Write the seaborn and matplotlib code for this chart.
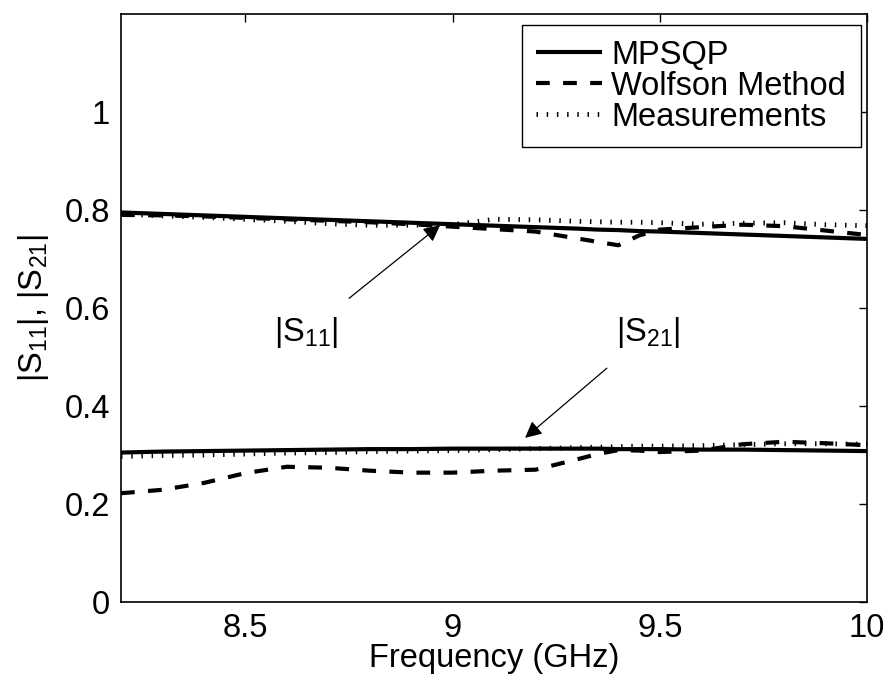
import numpy as np
import pandas as pd
import matplotlib
matplotlib.use("Agg")
import matplotlib.pyplot as plt
import seaborn as sns

freq = [8.2, 8.3, 8.4, 8.5, 8.6, 8.7, 8.8, 8.9, 9.0, 9.1, 9.2, 9.3, 9.35,
        9.4, 9.45, 9.5, 9.6, 9.7, 9.8, 9.9, 10.0]

s11_mpsqp = [0.795, 0.792, 0.789, 0.786, 0.783, 0.780, 0.777, 0.774, 0.771,
             0.768, 0.765, 0.762, 0.760, 0.759, 0.757, 0.756, 0.753, 0.750,
             0.747, 0.744, 0.741]
s11_wolfson = [0.790, 0.789, 0.787, 0.784, 0.781, 0.778, 0.775, 0.771, 0.766,
               0.761, 0.756, 0.742, 0.735, 0.728, 0.748, 0.760, 0.765, 0.770,
               0.767, 0.758, 0.749]
s11_meas = [0.792, 0.788, 0.785, 0.781, 0.777, 0.772, 0.769, 0.769, 0.770,
            0.781, 0.780, 0.777, 0.776, 0.775, 0.775, 0.774, 0.771, 0.773,
            0.774, 0.770, 0.768]

s21_mpsqp = [0.305, 0.307, 0.308, 0.309, 0.310, 0.311, 0.312, 0.312, 0.313,
             0.313, 0.313, 0.313, 0.313, 0.312, 0.312, 0.312, 0.311, 0.311,
             0.310, 0.309, 0.308]
s21_wolfson = [0.222, 0.229, 0.243, 0.263, 0.276, 0.274, 0.268, 0.264, 0.264,
               0.268, 0.270, 0.291, 0.302, 0.310, 0.309, 0.306, 0.309, 0.322,
               0.327, 0.324, 0.320]
s21_meas = [0.297, 0.299, 0.300, 0.302, 0.304, 0.305, 0.307, 0.308, 0.309,
            0.311, 0.313, 0.315, 0.316, 0.317, 0.318, 0.318, 0.319, 0.321,
            0.323, 0.323, 0.322]

legend_labels = ["MPSQP", "Wolfson Method", "Measurements"]
xticks = [8.5, 9, 9.5, 10]
xtick_labels = ["8.5", "9", "9.5", "10"]
yticks = [0, 0.2, 0.4, 0.6, 0.8, 1.0]
ytick_labels = ["0", "0.2", "0.4", "0.6", "0.8", "1"]

FS = 23.5

sns.set_style("white")
plt.rcParams["font.family"] = ["Liberation Sans", "DejaVu Sans"]
plt.rcParams["mathtext.fontset"] = "custom"
plt.rcParams["mathtext.rm"] = "Liberation Sans"
plt.rcParams["mathtext.it"] = "Liberation Sans"
plt.rcParams["mathtext.default"] = "regular"
for key in ["text.color", "axes.labelcolor", "xtick.color", "ytick.color",
            "axes.edgecolor"]:
    plt.rcParams[key] = "black"

fig = plt.figure(figsize=(8.88, 6.84), dpi=100)
ax = fig.add_axes([121 / 888, 82 / 684, 746 / 888, 588 / 684])

LW = 3.0
styles = {
    "MPSQP": dict(linestyle="-"),
    "Wolfson Method": dict(linestyle=(0, (3.3, 3.2))),
    "Measurements": dict(linestyle=(0, (0.3, 1.8))),
}

series = [
    ("MPSQP", s11_mpsqp, s21_mpsqp),
    ("Wolfson Method", s11_wolfson, s21_wolfson),
    ("Measurements", s11_meas, s21_meas),
]

handles = []
for name, y11, y21 in series:
    lw = LW if name != "Measurements" else 3.5
    sns.lineplot(x=freq, y=y11, ax=ax, color="black", linewidth=lw,
                 **styles[name])
    h = ax.lines[-1]
    h.set_dash_capstyle("butt")
    h.set_solid_capstyle("butt")
    handles.append(h)
    sns.lineplot(x=freq, y=y21, ax=ax, color="black", linewidth=lw,
                 **styles[name])
    ax.lines[-1].set_dash_capstyle("butt")

ax.set_xlim(8.2, 10)
ax.set_ylim(0, 1.2)
ax.set_xticks(xticks)
ax.set_xticklabels(xtick_labels)
ax.set_yticks(yticks)
ax.set_yticklabels(ytick_labels)
ax.tick_params(direction="in", length=6, width=1, labelsize=FS,
               top=True, right=True, color="black", labelcolor="black", pad=8)
for sp in ax.spines.values():
    sp.set_visible(True)
    sp.set_color("black")
    sp.set_linewidth(1.2)

ax.set_xlabel("Frequency (GHz)", fontsize=FS, labelpad=-1, color="black")
ax.set_ylabel(r"|S$_{11}$|, |S$_{21}$|", fontsize=FS, labelpad=10,
              color="black")

leg = ax.legend(handles, legend_labels, loc="upper right",
                bbox_to_anchor=(0.992, 0.9813), fontsize=FS,
                frameon=True, fancybox=False, handlelength=2.0,
                handletextpad=0.3, borderpad=0.45, labelspacing=0.0,
                borderaxespad=0.0)
leg.get_frame().set_edgecolor("black")
leg.get_frame().set_linewidth(1.0)
leg.get_frame().set_alpha(1)
for t in leg.get_texts():
    t.set_color("black")

ax.annotate(r"|S$_{11}$|", xy=(8.97, 0.769), xytext=(8.646, 0.549),
            fontsize=FS, ha="center", va="center", color="black",
            arrowprops=dict(arrowstyle="-|>", color="black", lw=0.9,
                            mutation_scale=25, shrinkA=16, shrinkB=0))
ax.annotate(r"|S$_{21}$|", xy=(9.175, 0.335), xytext=(9.472, 0.549),
            fontsize=FS, ha="center", va="center", color="black",
            arrowprops=dict(arrowstyle="-|>", color="black", lw=0.9,
                            mutation_scale=25, shrinkA=16, shrinkB=0))

fig.savefig("out.png", dpi=100)
